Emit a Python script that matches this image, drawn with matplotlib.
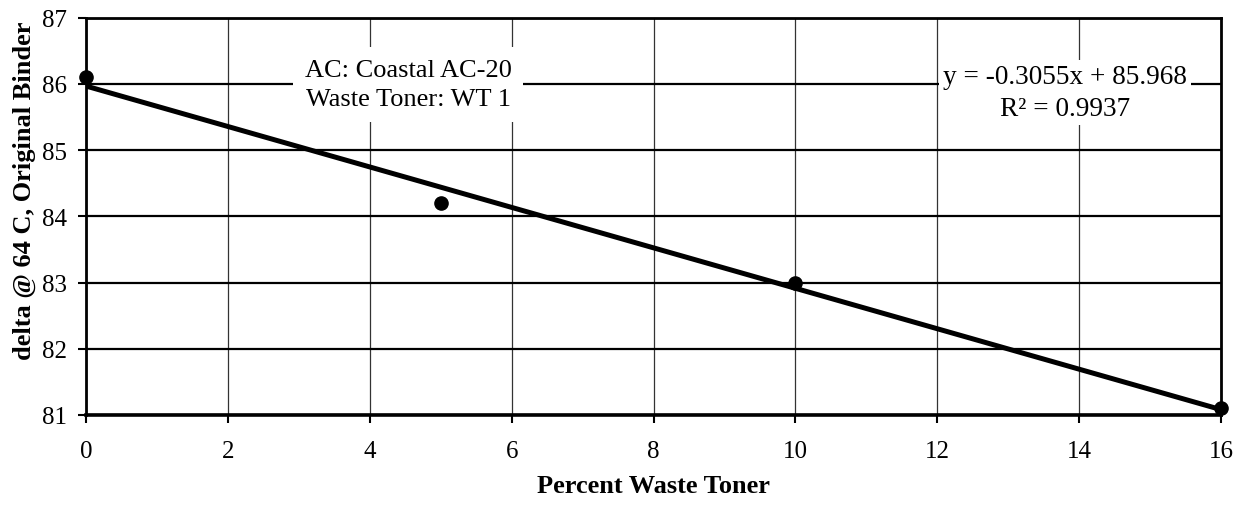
import numpy as np
import matplotlib.pyplot as plt

plt.rcParams['font.family'] = ['Liberation Serif', 'DejaVu Serif']

# porcentaje de toner y delta medido
toner_pct = [0, 5, 10, 16]
delta_64c = [86.1, 84.2, 83.0, 81.1]

# recta de tendencia reportada
pendiente = -0.3055
intercepto = 85.968
r2 = 0.9937

x_ticks = [0, 2, 4, 6, 8, 10, 12, 14, 16]
y_ticks = [81, 82, 83, 84, 85, 86, 87]

fig = plt.figure(figsize=(12.39, 5.06), dpi=100)
ax = fig.add_axes([0.0694, 0.178, 0.9161, 0.785])

x_lin = np.array([min(toner_pct), max(toner_pct)])
ax.plot(x_lin, pendiente * x_lin + intercepto, color='black', linewidth=3.6,
        solid_capstyle='butt', zorder=3)
ax.plot(toner_pct, delta_64c, 'o', color='black', markersize=9.5, zorder=4, clip_on=False)

ax.set_xlim(0, 16)
ax.set_ylim(81, 87)
ax.set_xticks(x_ticks)
ax.set_yticks(y_ticks)
ax.tick_params(labelsize=18, length=6, width=1.5, direction='out')
ax.tick_params(axis='x', pad=12)
ax.tick_params(axis='y', pad=8)

ax.grid(axis='y', color='black', linewidth=1.6, zorder=1)
ax.grid(axis='x', color='#333333', linewidth=0.9, zorder=1)
ax.set_axisbelow(True)
for s in ax.spines.values():
    s.set_linewidth(2)
ax.spines['bottom'].set_linewidth(2.6)

ax.set_xlabel('Percent Waste Toner', fontsize=19, fontweight='bold')
ax.xaxis.set_label_coords(0.5, -0.148)
ax.set_ylabel('delta @ 64 C, Original Binder', fontsize=19, fontweight='bold', va='center')
ax.yaxis.set_label_coords(-0.0546, 0.567)

ax.text(4.54, 85.99, 'AC: Coastal AC-20\nWaste Toner: WT 1', ha='center', va='center',
        fontsize=19, linespacing=1.4, zorder=2,
        bbox=dict(boxstyle='square,pad=0.45', facecolor='white', edgecolor='none'))
ax.text(13.8, 85.875, f'y = {pendiente}x + {intercepto}\nR² = {r2}', ha='center', va='center',
        fontsize=19.6, linespacing=1.36, zorder=2,
        bbox=dict(boxstyle='square,pad=0.15', facecolor='white', edgecolor='none'))

fig.savefig('out.png', dpi=100)
